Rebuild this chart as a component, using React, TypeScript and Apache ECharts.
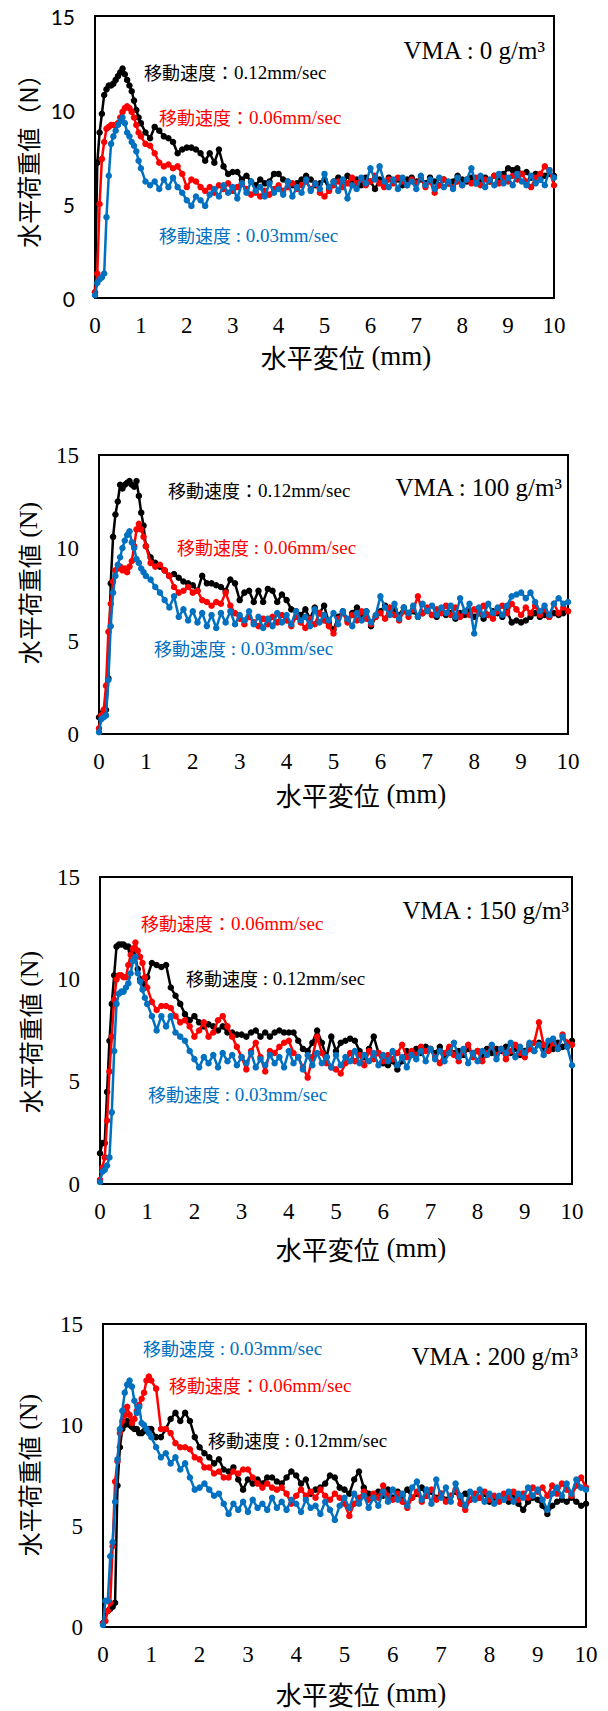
import React, { useEffect, useRef } from "react";
import * as echarts from "echarts";

// Horizontal displacement (mm): 0.05 mm steps up to 0.95, then 0.1 mm steps
const DISP_MM = [
  0, 0.05, 0.1, 0.15, 0.2, 0.25, 0.3, 0.35, 0.4, 0.45, 0.5, 0.55, 0.6, 0.65, 0.7, 0.75, 0.8, 0.85, 0.9, 0.95,
  1.0, 1.1, 1.2, 1.3, 1.4, 1.5, 1.6, 1.7, 1.8, 1.9,
  2.0, 2.1, 2.2, 2.3, 2.4, 2.5, 2.6, 2.7, 2.8, 2.9,
  3.0, 3.1, 3.2, 3.3, 3.4, 3.5, 3.6, 3.7, 3.8, 3.9,
  4.0, 4.1, 4.2, 4.3, 4.4, 4.5, 4.6, 4.7, 4.8, 4.9,
  5.0, 5.1, 5.2, 5.3, 5.4, 5.5, 5.6, 5.7, 5.8, 5.9,
  6.0, 6.1, 6.2, 6.3, 6.4, 6.5, 6.6, 6.7, 6.8, 6.9,
  7.0, 7.1, 7.2, 7.3, 7.4, 7.5, 7.6, 7.7, 7.8, 7.9,
  8.0, 8.1, 8.2, 8.3, 8.4, 8.5, 8.6, 8.7, 8.8, 8.9,
  9.0, 9.1, 9.2, 9.3, 9.4, 9.5, 9.6, 9.7, 9.8, 9.9,
  10.0,
];

const X_TICKS = [0, 10];
const Y_TICKS = [0, 15];

// ---- VMA 0 g/m3 : horizontal load (N) ----
const VMA0_V012 = [
  0.3, 7.2, 8.8, 9.8, 10.8, 11.1, 11.3, 11.3, 11.4, 11.6, 11.8, 12.0, 12.2, 11.9, 11.6, 11.3, 11.0, 10.5, 10.0, 9.6,
  9.3, 8.8, 8.5, 9.1, 8.9, 8.6, 8.5, 8.3, 7.7, 7.9,
  8.0, 8.0, 7.9, 7.7, 7.3, 7.7, 7.2, 7.9, 7.0, 6.6,
  6.7, 6.7, 6.3, 6.5, 6.2, 6.0, 6.3, 6.1, 6.2, 6.6,
  6.6, 6.3, 6.2, 6.0, 6.1, 6.3, 6.5, 6.3, 6.0, 6.1,
  6.3, 5.8, 6.2, 6.4, 6.0, 6.5, 6.1, 6.3, 6.0, 6.4,
  6.2, 5.8, 6.3, 6.1, 6.4, 6.2, 6.3, 6.0, 6.3, 6.4,
  6.2, 6.3, 6.1, 6.4, 6.2, 6.0, 6.3, 6.1, 6.2, 6.5,
  6.3, 6.2, 6.4, 6.1, 6.3, 6.4, 6.2, 6.5, 6.3, 6.6,
  6.9, 6.8, 6.9, 6.6, 6.7, 6.4, 6.6, 6.3, 6.5, 6.6,
  6.5,
];
const VMA0_V006 = [
  0.3, 1.3, 5.0, 7.4, 8.3, 9.0, 9.1, 9.2, 9.2, 9.2, 9.3, 9.6, 9.9, 10.1, 10.2, 10.1, 9.9, 9.6, 9.2, 8.8,
  8.6, 8.2, 8.1, 7.7, 7.2, 7.0, 7.1, 6.9, 7.0, 6.6,
  5.9, 6.3, 6.2, 5.9, 5.7, 5.9, 5.6, 6.0, 5.8, 6.1,
  5.7, 5.9, 6.1, 5.8, 5.5, 5.6, 5.4, 5.7, 5.5, 5.8,
  6.0, 5.7, 5.9, 6.1, 5.8, 6.0, 6.2, 5.8, 6.1, 5.6,
  5.4, 5.7, 6.0, 6.2, 5.9, 6.1, 6.4, 6.1, 6.3, 6.0,
  6.2, 6.5, 6.1, 5.9, 6.3, 6.1, 6.4, 6.2, 6.0, 6.3,
  6.1, 6.4, 5.9, 6.2, 5.6, 6.0, 6.3, 6.1, 5.9, 6.2,
  6.0, 6.3, 6.1, 6.4, 6.0, 6.3, 6.2, 6.5, 6.1, 6.4,
  6.2, 6.5, 6.3, 6.6, 6.2, 5.9, 6.4, 6.6, 7.0, 6.8,
  6.0,
];
const VMA0_V003 = [
  0.15, 0.8, 1.0, 1.1, 1.3, 4.3, 6.5, 8.2, 8.6, 8.9, 9.2, 9.4, 9.6, 9.3, 8.8, 8.6, 8.3, 8.1, 7.8, 7.3,
  6.9, 6.2, 6.0, 6.2, 5.8, 6.3, 5.9, 6.4, 5.9, 5.6,
  5.2, 4.9, 5.4, 5.2, 4.9, 5.5, 5.8, 5.4, 6.0, 5.6,
  5.9, 5.3, 6.1, 5.6, 6.2, 5.7, 5.9, 5.4, 6.1, 5.6,
  5.8, 5.5, 6.2, 5.4, 5.9, 5.6, 6.3, 5.7, 6.1, 5.8,
  6.6, 5.9, 6.2, 5.7, 6.3, 5.3, 6.0, 5.8, 6.4, 6.1,
  6.9, 6.3, 7.0, 6.2, 5.9, 6.3, 5.8, 6.4, 6.0, 6.2,
  5.8, 6.5, 6.0, 6.3, 5.8, 6.4, 5.9, 6.2, 5.8, 6.4,
  6.0, 6.3, 6.9, 6.1, 6.5, 5.9, 6.3, 6.0, 6.6, 6.1,
  6.4, 6.0, 6.6, 6.2, 6.0, 6.5, 6.1, 6.3, 6.0, 6.8,
  6.4,
];

// ---- VMA 100 g/m3 ----
const VMA100_V012 = [
  0.9, 1.1, 1.2, 1.3, 3.0, 8.1, 10.6, 11.8, 12.5, 13.4, 13.2, 13.4, 13.5, 13.6, 13.4, 13.3, 13.6, 12.8, 11.9, 11.2,
  10.1, 9.5, 9.2, 9.0, 8.8, 8.5, 8.6, 8.4, 8.2, 8.1,
  8.0, 7.7, 8.5, 8.1, 8.1, 8.0, 7.9, 7.7, 8.3, 8.1,
  7.2, 7.6, 7.7, 7.1, 7.7, 7.1, 7.8, 7.7, 7.1, 7.5,
  7.2, 6.7, 6.6, 6.4, 6.7, 6.2, 6.8, 6.5, 6.9, 6.0,
  5.6, 6.3, 6.6, 6.1, 6.5, 6.8, 6.4, 6.6, 5.8, 6.3,
  6.6, 6.9, 6.5, 6.7, 6.4, 6.8, 6.5, 6.6, 6.3, 6.5,
  6.7, 6.4, 6.3, 6.6, 6.4, 6.5, 6.2, 6.5, 6.4, 6.6,
  6.3, 6.5, 6.2, 6.4, 6.6, 6.5, 6.3, 6.6, 6.0, 6.1,
  6.0, 6.1, 6.3, 6.5, 6.3, 6.4, 6.3, 6.5, 6.4, 6.5,
  6.6,
];
const VMA100_V006 = [
  0.3, 1.0, 1.3, 2.6, 5.5, 7.0, 8.2, 8.8, 8.9, 9.0, 8.8, 8.9, 8.7, 9.0, 9.3, 10.1, 11.0, 11.3, 11.0, 10.6,
  10.1, 9.2, 9.0, 9.1, 8.8, 8.5, 7.9, 7.6, 7.7, 7.9,
  7.6, 7.7, 7.2, 7.1, 6.9, 7.1, 7.0, 7.6, 6.9, 6.5,
  6.2, 5.9, 6.3, 6.0, 5.8, 6.2, 5.9, 6.3, 6.0, 6.4,
  6.1, 5.8, 6.3, 6.0, 5.7, 6.2, 5.9, 6.5, 6.1, 5.8,
  5.4, 6.2, 6.5, 6.0, 6.4, 6.1, 6.6, 6.2, 5.9, 6.3,
  6.5, 6.2, 6.8, 6.4, 6.1, 6.6, 6.3, 6.7, 7.4, 6.5,
  6.8, 6.4, 6.7, 6.5, 6.9, 6.4, 6.8, 6.3, 6.6, 6.4,
  6.7, 6.5, 6.9, 6.4, 6.2, 6.6, 6.9, 6.5, 7.0, 6.7,
  6.4, 6.8, 6.5, 6.9, 6.4, 6.7, 6.3, 7.0, 6.5, 6.8,
  6.6,
];
const VMA100_V003 = [
  0.1, 0.8, 0.9, 1.0, 2.9, 5.8, 7.6, 8.5, 9.1, 9.5, 10.0, 10.4, 10.7, 10.9, 10.3, 10.0, 9.4, 9.2, 8.9, 8.7,
  8.5, 8.3, 7.9, 7.6, 7.2, 6.8, 7.4, 6.3, 6.7, 6.1,
  6.6, 6.0, 6.5, 5.8, 6.4, 5.7, 6.5, 6.0, 6.6, 5.9,
  6.4, 6.1, 6.6, 5.9, 6.3, 5.7, 6.2, 5.8, 6.5, 6.0,
  6.4, 5.9, 6.6, 6.1, 6.3, 5.8, 6.7, 6.0, 6.4, 6.1,
  6.5, 5.9, 6.6, 6.2, 5.8, 6.5, 6.1, 6.6, 6.0, 6.4,
  7.4, 6.8, 6.4, 7.0, 6.2, 6.8, 6.5, 6.9, 6.3, 7.0,
  6.6, 6.9, 6.4, 6.8, 6.5, 6.9, 6.3, 7.3, 6.6, 7.0,
  5.4, 6.8, 6.4, 7.0, 6.5, 6.8, 6.4, 6.9, 7.4, 7.5,
  7.6, 7.3, 7.6, 7.1, 6.6, 6.9, 6.4, 7.0, 7.3, 7.0,
  7.1,
];

// ---- VMA 150 g/m3 ----
const VMA150_V012 = [
  1.5, 2.0, 2.0, 4.5, 7.0, 8.8, 10.2, 11.6, 11.7, 11.7, 11.7, 11.6, 11.6, 11.4, 11.3, 11.1, 10.5, 10.0, 9.8, 9.6,
  10.1, 10.8, 10.7, 10.6, 10.7, 9.6, 9.2, 8.8, 8.3, 8.0,
  8.2, 7.9, 7.7, 7.8, 7.7, 7.5, 7.7, 7.4, 7.4, 7.3,
  7.3, 7.2, 7.4, 7.5, 7.2, 7.4, 7.2, 7.4, 7.5, 7.4,
  7.4, 7.4, 7.0, 6.6, 6.5, 6.9, 7.5, 6.9, 6.2, 7.2,
  6.5, 6.9, 7.0, 7.1, 7.0, 6.5, 6.2, 6.6, 7.2, 6.4,
  5.9, 5.8, 6.0, 5.6, 6.0, 6.5, 6.3, 6.6, 6.4, 6.7,
  6.6, 6.4, 6.7, 6.3, 6.6, 6.4, 6.5, 6.3, 6.6, 6.4,
  6.5, 6.3, 6.6, 6.4, 6.6, 6.5, 6.7, 6.4, 6.6, 6.3,
  6.5, 6.8, 6.5, 6.9, 6.6, 6.8, 6.6, 6.9, 6.7, 6.9,
  7.0,
];
const VMA150_V006 = [
  0.2, 0.8, 1.3, 3.1, 5.5, 7.2, 9.0, 10.0, 10.2, 10.2, 10.1, 10.1, 10.7, 11.2, 11.5, 11.8, 11.4, 11.1, 10.8, 10.1,
  9.6, 8.9, 8.5, 8.7, 8.7, 8.6, 8.2, 7.9, 8.0, 7.7,
  7.2, 7.5, 7.9, 7.2, 7.4, 8.0, 8.2, 7.7, 7.2, 6.7,
  6.2, 5.6, 6.5, 6.9, 6.2, 5.5, 6.5, 6.4, 6.7, 6.9,
  7.0, 6.4, 6.2, 5.7, 5.2, 6.2, 7.2, 6.4, 5.9, 5.7,
  5.6, 5.4, 5.9, 6.4, 6.0, 6.3, 5.8, 6.5, 6.1, 6.4,
  6.0, 6.3, 6.1, 6.4, 6.8, 6.2, 6.5, 6.3, 6.7, 6.5,
  6.6, 6.2, 5.9, 6.4, 6.7, 6.3, 6.0, 6.5, 6.8, 6.2,
  6.5, 6.0, 6.4, 6.7, 6.3, 6.6, 6.1, 6.5, 6.8, 6.4,
  6.2, 6.6, 6.9, 7.9, 6.8, 6.5, 6.9, 6.6, 7.3, 6.9,
  6.8,
];
const VMA150_V003 = [
  0.1, 0.6, 0.7, 0.9, 1.3, 3.5, 6.5, 8.8, 9.3, 9.4, 9.4, 9.6, 9.8, 10.3, 10.9, 11.1, 10.3, 9.9, 9.5, 9.1,
  8.8, 8.2, 7.5, 8.2, 7.7, 8.2, 7.4, 7.2, 7.0, 6.5,
  6.1, 5.7, 6.2, 5.9, 6.3, 5.7, 6.4, 6.0, 6.3, 5.8,
  6.2, 5.9, 6.4, 5.7, 6.1, 5.8, 6.3, 5.9, 6.2, 5.7,
  6.5, 5.9, 6.2, 5.6, 6.3, 5.8, 6.4, 5.9, 6.2, 5.7,
  6.3, 5.8, 6.2, 6.0, 6.5, 5.9, 6.3, 6.0, 6.4, 5.8,
  6.3, 6.0, 6.5, 5.8, 6.2, 5.7, 6.3, 6.1, 6.5, 6.0,
  6.6, 6.1, 6.5, 6.0, 6.4, 6.9, 6.2, 6.6, 5.9, 6.4,
  6.0, 6.5, 6.3, 6.8, 6.1, 6.6, 6.4, 6.9, 6.2, 6.7,
  6.4, 6.9, 6.5, 6.8, 6.3, 7.0, 7.1, 6.6, 7.2, 6.7,
  5.8,
];

// ---- VMA 200 g/m3 ----
const VMA200_V012 = [
  0.2, 0.7, 0.8, 0.9, 1.0, 1.2, 7.0, 8.9, 9.8, 10.0, 10.2, 10.0, 9.9, 9.8, 9.8, 9.6, 9.6, 9.7, 9.8, 9.8,
  9.8, 9.4, 9.4, 9.8, 10.3, 10.6, 10.2, 10.6, 10.2, 9.4,
  8.9, 8.6, 8.4, 8.1, 8.3, 7.8, 7.7, 7.9, 7.3, 6.8,
  7.3, 7.1, 7.3, 7.1, 7.4, 7.4, 7.2, 7.1, 7.4, 7.7,
  7.5, 7.1, 7.3, 6.6, 6.8, 6.9, 7.1, 7.5, 7.4, 6.9,
  6.8, 6.6, 7.3, 7.7, 6.9, 6.6, 6.4, 6.7, 6.5, 6.8,
  6.4, 6.7, 6.5, 6.8, 6.4, 6.6, 6.9, 6.5, 6.7, 6.4,
  6.6, 6.3, 6.5, 6.7, 6.4, 6.6, 6.3, 6.5, 6.4, 6.6,
  6.2, 6.4, 6.3, 6.5, 6.2, 6.4, 6.1, 5.8, 6.2, 6.4,
  6.3, 6.0, 5.6, 6.0, 6.2, 6.3, 6.2, 6.4, 6.2, 6.0,
  6.1,
];
const VMA200_V006 = [
  0.2, 0.3, 0.8, 1.2, 4.0, 7.2, 8.2, 9.6, 10.2, 10.5, 10.9, 10.5, 10.1, 10.3, 10.7, 11.0, 11.3, 11.6, 12.2, 12.4,
  12.2, 11.8, 9.8, 9.8, 9.6, 9.1, 8.9, 8.9, 8.8, 8.4,
  8.3, 7.9, 7.9, 7.6, 7.7, 7.4, 7.4, 7.7, 7.6, 7.8,
  7.8, 7.4, 7.1, 6.9, 7.1, 6.9, 6.8, 6.9, 6.6, 6.1,
  6.5, 6.8, 6.5, 6.7, 6.4, 6.8, 6.5, 6.3, 6.6, 6.4,
  6.1, 5.5, 6.1, 6.4, 6.7, 6.3, 6.6, 6.4, 7.0, 6.5,
  6.3, 6.6, 6.2, 5.9, 6.4, 6.7, 6.2, 6.5, 6.8, 6.3,
  6.6, 6.2, 6.5, 6.8, 6.1, 5.8, 6.3, 6.6, 6.4, 6.7,
  6.3, 6.5, 6.2, 6.6, 6.4, 6.7, 6.3, 6.6, 6.4, 6.9,
  6.7, 6.9, 6.5, 7.0, 6.6, 7.1, 6.8, 6.5, 7.0, 7.4,
  6.9,
];
const VMA200_V003 = [
  0.1, 1.3, 1.3, 3.5, 4.2, 6.2, 8.3, 9.8, 10.7, 11.6, 12.0, 12.2, 11.9, 11.2, 10.6, 10.9, 10.1, 10.0, 9.8, 9.6,
  9.4, 8.9, 8.4, 8.6, 8.1, 8.4, 7.8, 8.1, 7.4, 6.8,
  6.9, 7.1, 6.8, 6.5, 6.6, 6.1, 5.6, 6.1, 5.8, 6.2,
  5.7, 6.3, 5.9, 6.1, 5.8, 6.4, 5.9, 6.2, 5.8, 6.3,
  6.1, 5.7, 6.3, 5.9, 6.0, 5.6, 6.2, 5.8, 5.3, 6.0,
  6.4, 5.9, 6.6, 6.1, 6.5, 5.9, 6.4, 6.0, 6.7, 6.2,
  6.8, 6.3, 6.6, 6.0, 6.9, 7.2, 6.3, 6.8, 6.1, 7.3,
  6.4, 6.9, 6.2, 7.1, 6.5, 6.0, 6.7, 6.3, 6.8, 6.2,
  6.6, 6.1, 6.5, 6.3, 6.7, 6.2, 6.6, 6.4, 6.9, 6.5,
  6.8, 6.3, 5.8, 6.6, 6.9, 6.5, 7.1, 6.6, 7.3, 6.9,
  6.8,
];

const SPEEDS = ["0.12mm/sec", "0.06mm/sec", "0.03mm/sec"];
const VMA_LABELS = ["0", "100", "150", "200"];
const SERIES_BY_PANEL = [
  [VMA0_V012, VMA0_V006, VMA0_V003],
  [VMA100_V012, VMA100_V006, VMA100_V003],
  [VMA150_V012, VMA150_V006, VMA150_V003],
  [VMA200_V012, VMA200_V006, VMA200_V003],
];

// ---- styling / layout ----
const COLORS = ["#000000", "#FF0000", "#0070C0"];
const SERIF = '"Liberation Serif", "Times New Roman", serif';
const CJK = '"Noto Sans CJK JP", "Noto Sans CJK SC", sans-serif';
const SANS = 'Lato, "Liberation Sans", sans-serif';

type Note = { speed: number; x: number; y: number; wide: boolean };
type Layout = {
  grid: { left: number; top: number; width: number; height: number };
  ySans: boolean;
  yTitle: { x: number; y: number; sans: boolean };
  xTitle: { x: number; y: number };
  vma: { x: number; y: number };
  notes: Note[];
};

const LAYOUT: Layout[] = [
  {
    grid: { left: 95, top: 16, width: 459, height: 282 },
    ySans: true,
    yTitle: { x: 27, y: 155, sans: true },
    xTitle: { x: 346, y: 356 },
    vma: { x: 545, y: 50 },
    notes: [
      { speed: 0, x: 144, y: 72, wide: true },
      { speed: 1, x: 159, y: 117, wide: true },
      { speed: 2, x: 159, y: 235, wide: false },
    ],
  },
  {
    grid: { left: 99, top: 455, width: 469, height: 279 },
    ySans: false,
    yTitle: { x: 28, y: 583, sans: false },
    xTitle: { x: 361, y: 794 },
    vma: { x: 562, y: 487 },
    notes: [
      { speed: 0, x: 168, y: 490, wide: true },
      { speed: 1, x: 177, y: 547, wide: false },
      { speed: 2, x: 154, y: 648, wide: false },
    ],
  },
  {
    grid: { left: 100, top: 877, width: 472, height: 307 },
    ySans: false,
    yTitle: { x: 29, y: 1032, sans: false },
    xTitle: { x: 361, y: 1248 },
    vma: { x: 569, y: 910 },
    notes: [
      { speed: 1, x: 141, y: 923, wide: true },
      { speed: 0, x: 186, y: 978, wide: false },
      { speed: 2, x: 148, y: 1094, wide: false },
    ],
  },
  {
    grid: { left: 103, top: 1324, width: 483, height: 303 },
    ySans: false,
    yTitle: { x: 28, y: 1475, sans: false },
    xTitle: { x: 361, y: 1693 },
    vma: { x: 578, y: 1356 },
    notes: [
      { speed: 2, x: 143, y: 1348, wide: false },
      { speed: 1, x: 169, y: 1385, wide: true },
      { speed: 0, x: 208, y: 1440, wide: false },
    ],
  },
];

function buildOption() {
  const grids: any[] = [];
  const xAxes: any[] = [];
  const yAxes: any[] = [];
  const series: any[] = [];
  const graphics: any[] = [];

  LAYOUT.forEach((lay, p) => {
    grids.push({
      ...lay.grid,
      show: true,
      borderColor: "#000",
      borderWidth: 2,
      backgroundColor: "transparent",
    });
    xAxes.push({
      type: "value",
      gridIndex: p,
      min: X_TICKS[0],
      max: X_TICKS[1],
      interval: 1,
      axisLine: { show: false },
      axisTick: { show: false },
      splitLine: { show: false },
      axisLabel: { color: "#000", fontFamily: SERIF, fontSize: 23, margin: 16 },
    });
    yAxes.push({
      type: "value",
      gridIndex: p,
      min: Y_TICKS[0],
      max: Y_TICKS[1],
      interval: 5,
      axisLine: { show: false },
      axisTick: { show: false },
      splitLine: { show: false },
      axisLabel: {
        color: "#000",
        fontFamily: lay.ySans ? SANS : SERIF,
        fontSize: lay.ySans ? 21 : 23,
        margin: 20,
      },
    });

    SERIES_BY_PANEL[p].forEach((vals, s) => {
      series.push({
        type: "line",
        name: `VMA${VMA_LABELS[p]} ${SPEEDS[s]}`,
        xAxisIndex: p,
        yAxisIndex: p,
        data: DISP_MM.map((x, i) => [x, vals[i]]),
        symbol: "circle",
        symbolSize: 6.5,
        showSymbol: true,
        lineStyle: { color: COLORS[s], width: 2.5 },
        itemStyle: { color: COLORS[s] },
        z: 2 + s,
      });
    });

    // axis titles
    graphics.push({
      type: "text",
      x: lay.xTitle.x,
      y: lay.xTitle.y,
      style: {
        text: "{c|水平変位}{s| (mm)}",
        align: "center",
        verticalAlign: "middle",
        rich: {
          c: { fontFamily: CJK, fontSize: 26, fill: "#000" },
          s: { fontFamily: SERIF, fontSize: 27, fill: "#000" },
        },
      },
    });
    graphics.push({
      type: "text",
      x: lay.yTitle.x,
      y: lay.yTitle.y,
      rotation: Math.PI / 2,
      style: {
        text: lay.yTitle.sans ? "{c|水平荷重値（N）}" : "{c|水平荷重値}{s| (N)}",
        align: "center",
        verticalAlign: "middle",
        rich: {
          c: { fontFamily: CJK, fontSize: 24, fill: "#000" },
          s: { fontFamily: SERIF, fontSize: 26, fill: "#000" },
        },
      },
    });

    // VMA label
    graphics.push({
      type: "text",
      x: lay.vma.x,
      y: lay.vma.y,
      style: {
        text: `VMA : ${VMA_LABELS[p]} g/m³`,
        fontFamily: SERIF,
        fontSize: 25,
        fill: "#000",
        align: "right",
        verticalAlign: "middle",
      },
    });

    // speed annotations
    lay.notes.forEach((n) => {
      const col = COLORS[n.speed];
      graphics.push({
        type: "text",
        x: n.x,
        y: n.y,
        style: {
          text: n.wide
            ? `{c|移動速度}{c|：}{s|${SPEEDS[n.speed]}}`
            : `{c|移動速度}{s| : ${SPEEDS[n.speed]}}`,
          align: "left",
          verticalAlign: "middle",
          rich: {
            c: { fontFamily: CJK, fontSize: 18, fill: col },
            s: { fontFamily: SERIF, fontSize: 19, fill: col },
          },
        },
      });
    });
  });

  return {
    animation: false,
    backgroundColor: "#ffffff",
    grid: grids,
    xAxis: xAxes,
    yAxis: yAxes,
    series,
    graphic: graphics,
  };
}

export default function App() {
  const ref = useRef<HTMLDivElement>(null);
  useEffect(() => {
    document.body.style.margin = "0";
    if (!ref.current) return;
    const chart = echarts.init(ref.current, undefined, { renderer: "svg" });
    chart.setOption(buildOption());
    return () => chart.dispose();
  }, []);
  return (
    <div
      ref={ref}
      style={{ position: "absolute", left: 0, top: 0, width: 608, height: 1711 }}
    />
  );
}
